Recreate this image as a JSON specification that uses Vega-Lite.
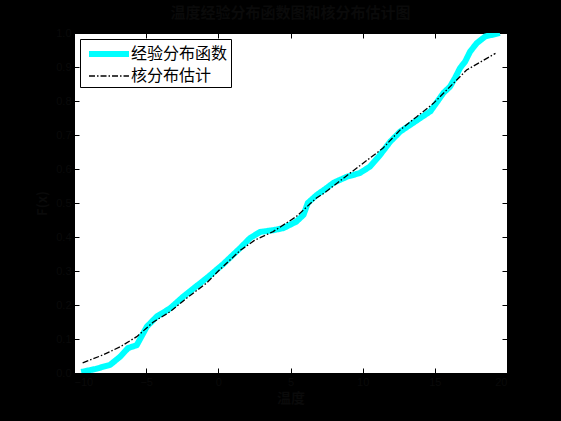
{
  "$schema": "https://vega.github.io/schema/vega-lite/v6.json",
  "width": 433,
  "height": 340,
  "autosize": {"type": "none"},
  "padding": {"left": 74, "top": 33, "right": 54, "bottom": 48},
  "background": "#000000",
  "title": {"text": "温度经验分布函数图和核分布估计图", "font": "Noto Sans CJK SC", "fontSize": 15, "fontWeight": "bold", "color": "#0a0a0a", "offset": 6},
  "config": {"view": {"stroke": "#000000", "strokeWidth": 1, "fill": "#ffffff"}},
  "data": {"values": [
    {"s": "经验分布函数", "x": -9.5, "y": 0.003},
    {"s": "经验分布函数", "x": -8.5, "y": 0.012},
    {"s": "经验分布函数", "x": -7.5, "y": 0.024},
    {"s": "经验分布函数", "x": -6.8, "y": 0.048},
    {"s": "经验分布函数", "x": -6.26, "y": 0.073},
    {"s": "经验分布函数", "x": -5.65, "y": 0.082},
    {"s": "经验分布函数", "x": -4.96, "y": 0.136},
    {"s": "经验分布函数", "x": -4.27, "y": 0.166},
    {"s": "经验分布函数", "x": -3.35, "y": 0.19},
    {"s": "经验分布函数", "x": -2.45, "y": 0.224},
    {"s": "经验分布函数", "x": -1.5, "y": 0.256},
    {"s": "经验分布函数", "x": -0.7, "y": 0.283},
    {"s": "经验分布函数", "x": 0.33, "y": 0.32},
    {"s": "经验分布函数", "x": 1.5, "y": 0.367},
    {"s": "经验分布函数", "x": 2.2, "y": 0.397},
    {"s": "经验分布函数", "x": 2.9, "y": 0.415},
    {"s": "经验分布函数", "x": 3.8, "y": 0.42},
    {"s": "经验分布函数", "x": 4.5, "y": 0.426},
    {"s": "经验分布函数", "x": 5.4, "y": 0.445},
    {"s": "经验分布函数", "x": 5.9, "y": 0.465},
    {"s": "经验分布函数", "x": 6.2, "y": 0.5},
    {"s": "经验分布函数", "x": 6.8, "y": 0.523},
    {"s": "经验分布函数", "x": 7.5, "y": 0.544},
    {"s": "经验分布函数", "x": 8.0, "y": 0.56},
    {"s": "经验分布函数", "x": 8.9, "y": 0.577},
    {"s": "经验分布函数", "x": 9.8, "y": 0.588},
    {"s": "经验分布函数", "x": 10.5, "y": 0.607},
    {"s": "经验分布函数", "x": 11.2, "y": 0.641},
    {"s": "经验分布函数", "x": 11.9, "y": 0.68},
    {"s": "经验分布函数", "x": 12.6, "y": 0.71},
    {"s": "经验分布函数", "x": 13.3, "y": 0.73},
    {"s": "经验分布函数", "x": 14.0, "y": 0.75},
    {"s": "经验分布函数", "x": 14.7, "y": 0.77},
    {"s": "经验分布函数", "x": 15.1, "y": 0.794},
    {"s": "经验分布函数", "x": 15.6, "y": 0.824},
    {"s": "经验分布函数", "x": 16.05, "y": 0.842},
    {"s": "经验分布函数", "x": 16.4, "y": 0.868},
    {"s": "经验分布函数", "x": 16.75, "y": 0.897},
    {"s": "经验分布函数", "x": 17.1, "y": 0.916},
    {"s": "经验分布函数", "x": 17.44, "y": 0.945},
    {"s": "经验分布函数", "x": 17.9, "y": 0.97},
    {"s": "经验分布函数", "x": 18.5, "y": 0.99},
    {"s": "经验分布函数", "x": 19.2, "y": 0.997},
    {"s": "经验分布函数", "x": 19.5, "y": 1.0},
    {"s": "核分布估计", "x": -9.4, "y": 0.03},
    {"s": "核分布估计", "x": -8.0, "y": 0.053},
    {"s": "核分布估计", "x": -6.8, "y": 0.077},
    {"s": "核分布估计", "x": -5.65, "y": 0.107},
    {"s": "核分布估计", "x": -4.5, "y": 0.15},
    {"s": "核分布估计", "x": -3.35, "y": 0.18},
    {"s": "核分布估计", "x": -2.2, "y": 0.22},
    {"s": "核分布估计", "x": -0.8, "y": 0.265},
    {"s": "核分布估计", "x": 0.0, "y": 0.3},
    {"s": "核分布估计", "x": 1.5, "y": 0.36},
    {"s": "核分布估计", "x": 2.5, "y": 0.39},
    {"s": "核分布估计", "x": 3.8, "y": 0.416},
    {"s": "核分布估计", "x": 5.4, "y": 0.46},
    {"s": "核分布估计", "x": 6.8, "y": 0.515},
    {"s": "核分布估计", "x": 7.3, "y": 0.528},
    {"s": "核分布估计", "x": 9.1, "y": 0.587},
    {"s": "核分布估计", "x": 11.4, "y": 0.661},
    {"s": "核分布估计", "x": 12.6, "y": 0.715},
    {"s": "核分布估计", "x": 13.75, "y": 0.754},
    {"s": "核分布估计", "x": 14.9, "y": 0.793},
    {"s": "核分布估计", "x": 17.2, "y": 0.891},
    {"s": "核分布估计", "x": 19.2, "y": 0.94}
  ]},
  "layer": [
    {
      "mark": {"type": "line", "clip": true},
      "encoding": {
        "x": {"field": "x", "type": "quantitative", "scale": {"domain": [-10, 20], "nice": false, "zero": false},
          "axis": {"title": "温度", "titleFont": "Noto Sans CJK SC", "titleFontSize": 14, "titleFontWeight": "bold", "titleColor": "#0a0a0a", "titlePadding": 4,
            "values": [-10, -5, 0, 5, 10, 15, 20], "tickSize": -5, "tickColor": "#000000", "domain": false, "grid": false,
            "labelColor": "#0a0a0a", "labelFont": "Liberation Sans", "labelFontSize": 11, "labelPadding": 8}},
        "y": {"field": "y", "type": "quantitative", "scale": {"domain": [0, 1], "nice": false},
          "axis": {"title": "F(x)", "titleFont": "Noto Sans CJK SC", "titleFontSize": 13, "titleFontWeight": "bold", "titleColor": "#0a0a0a", "titlePadding": 6,
            "values": [0, 0.1, 0.2, 0.3, 0.4, 0.5, 0.6, 0.7, 0.8, 0.9, 1], "tickSize": -5, "tickColor": "#000000", "domain": false, "grid": false,
            "labelColor": "#0a0a0a", "labelFont": "Liberation Sans", "labelFontSize": 11, "labelPadding": 8}},
        "color": {"field": "s", "type": "nominal", "sort": ["经验分布函数", "核分布估计"],
          "scale": {"domain": ["经验分布函数", "核分布估计"], "range": ["#00ffff", "#000000"]},
          "legend": {"title": null, "orient": "none", "legendX": 6, "legendY": 6, "fillColor": "#ffffff", "strokeColor": "#000000",
            "padding": 3, "symbolType": "M-2.22,0H2.22", "symbolSize": 324, "labelFont": "Noto Sans CJK SC", "labelFontSize": 16, "labelColor": "#000000",
            "rowPadding": -7, "labelOffset": 10, "symbolOffset": 14}},
        "strokeDash": {"field": "s", "type": "nominal", "sort": ["经验分布函数", "核分布估计"],
          "scale": {"domain": ["经验分布函数", "核分布估计"], "range": [[1, 0], [6, 2, 1.5, 2]]}},
        "strokeWidth": {"field": "s", "type": "nominal", "sort": ["经验分布函数", "核分布估计"],
          "scale": {"domain": ["经验分布函数", "核分布估计"], "range": [6, 1.3]}}
      }
    },
    {
      "mark": {"type": "line", "opacity": 0},
      "encoding": {
        "x": {"field": "x", "type": "quantitative", "axis": {"orient": "top", "title": null, "labels": false, "values": [-10, -5, 0, 5, 10, 15, 20], "tickSize": -5, "tickColor": "#000000", "domain": false, "grid": false}},
        "y": {"field": "y", "type": "quantitative", "axis": {"orient": "right", "title": null, "labels": false, "values": [0, 0.1, 0.2, 0.3, 0.4, 0.5, 0.6, 0.7, 0.8, 0.9, 1], "tickSize": -5, "tickColor": "#000000", "domain": false, "grid": false}},
        "detail": {"field": "s", "type": "nominal"}
      }
    }
  ],
  "resolve": {"axis": {"x": "independent", "y": "independent"}}
}
